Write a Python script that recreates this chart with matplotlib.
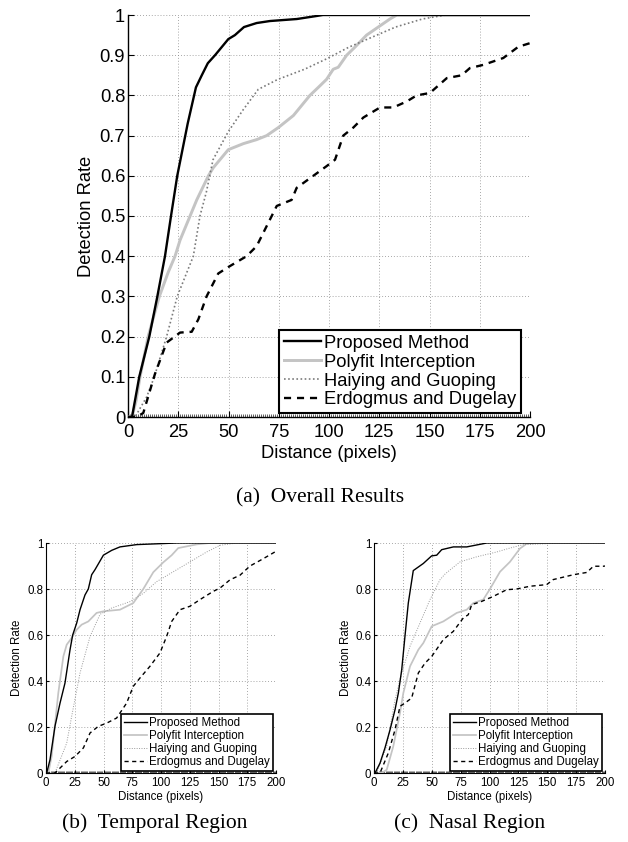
"""Detection-rate curves: overall, temporal and nasal regions."""

import matplotlib

matplotlib.use("Agg")
import matplotlib.pyplot as plt
from matplotlib.ticker import MultipleLocator

plt.rcParams.update({"font.family": ["Liberation Sans", "DejaVu Sans"]})

LABELS = ["Proposed Method", "Polyfit Interception", "Haiying and Guoping", "Erdogmus and Dugelay"]

# (a) overall
a_prop_x = [0, 2, 5.6, 10.6, 14.6, 18.4, 21.4, 24.5, 29.7, 33.8, 36.7, 39.7, 43.3, 49.9, 53.2, 57.7, 64, 70.6, 84, 97, 200]
a_prop_y = [0, 0, 0.1, 0.2, 0.3, 0.4, 0.5, 0.6, 0.73, 0.82, 0.85, 0.88, 0.9, 0.94, 0.95, 0.97, 0.98, 0.985, 0.99, 1.0, 1.0]
a_poly_x = [0, 2, 4, 6, 10, 15.6, 20, 23.4, 25.9, 34.2, 40, 42.4, 49.9, 57.4, 64, 69, 74.8, 82.3, 90.5, 94.7, 98.8,
            102.1, 104.6, 108.8, 112.9, 118.7, 124.5, 130.3, 133.7, 200]
a_poly_y = [0, 0, 0.04, 0.1, 0.2, 0.3, 0.36, 0.4, 0.44, 0.54, 0.6, 0.62, 0.665, 0.68, 0.69, 0.7, 0.72, 0.75, 0.8, 0.82,
            0.84, 0.865, 0.87, 0.9, 0.92, 0.95, 0.97, 0.99, 1.0, 1.0]
a_haiy_x = [0, 3.5, 9.3, 13.1, 19.2, 24.5, 32.5, 35.8, 39, 42.3, 49.9, 57.4, 64.8, 74.6, 87.8, 98.4, 109.9, 121.5,
            133.1, 146.4, 158, 200]
a_haiy_y = [0, 0, 0.05, 0.1, 0.2, 0.3, 0.4, 0.5, 0.56, 0.64, 0.71, 0.765, 0.815, 0.84, 0.865, 0.89, 0.92, 0.945,
            0.97, 0.99, 1.0, 1.0]
a_erdo_x = [0, 4.3, 7.6, 13.4, 19.2, 25.9, 31.7, 35, 39.1, 44.9, 49.9, 59, 64, 69, 74, 81.4, 83.9, 92.2, 98.8, 103,
            107.1, 112.1, 117.1, 125.4, 132, 138.7, 143.6, 150.2, 158.6, 166, 170.1, 176.8, 186.7, 194.2, 200]
a_erdo_y = [0, 0, 0.01, 0.107, 0.185, 0.21, 0.212, 0.243, 0.3, 0.357, 0.373, 0.4, 0.425, 0.475, 0.525, 0.54, 0.57,
            0.6, 0.624, 0.64, 0.7, 0.72, 0.745, 0.77, 0.77, 0.785, 0.8, 0.806, 0.843, 0.85, 0.868, 0.876, 0.893,
            0.921, 0.93]

# (b) temporal region
b_prop_x = [0, 0.6, 3.5, 7.8, 12.2, 16.5, 20.9, 23.2, 26.7, 29.6, 33.9, 36.8, 39.7, 42.6, 49.9, 57.1, 64.3, 78.8,
            113.6, 200]
b_prop_y = [0, 0, 0.058, 0.203, 0.304, 0.391, 0.536, 0.6, 0.652, 0.71, 0.774, 0.8, 0.862, 0.884, 0.947, 0.968,
            0.983, 0.993, 1.0, 1.0]
b_poly_x = [0, 2, 4.9, 10.7, 15.1, 18, 22.3, 26.7, 31, 36.8, 44, 49.9, 64.3, 75.9, 84.6, 93.3, 102, 109.3, 115, 131,
            142.6, 200]
b_poly_y = [0, 0, 0.072, 0.348, 0.507, 0.558, 0.587, 0.623, 0.645, 0.659, 0.696, 0.703, 0.71, 0.739, 0.8, 0.873,
            0.916, 0.947, 0.978, 0.994, 1.0, 1.0]
b_haiy_x = [0, 7.8, 18, 22.3, 29.6, 38.3, 47, 57, 73, 84.6, 96.2, 110.7, 125.2, 139.7, 151.3, 165.8, 200]
b_haiy_y = [0, 0, 0.13, 0.246, 0.435, 0.594, 0.69, 0.717, 0.745, 0.781, 0.832, 0.875, 0.918, 0.961, 0.99, 1.0, 1.0]
b_erdo_x = [0, 7.8, 18, 25.2, 32.5, 38.3, 45.5, 52.8, 61.4, 70.1, 75.9, 81.7, 90.4, 99.1, 104.9, 109.3, 116.5, 125.2,
            133.9, 145.5, 151.3, 160, 168.7, 177.4, 189, 199, 200]
b_erdo_y = [0, 0, 0.05, 0.072, 0.109, 0.174, 0.203, 0.217, 0.239, 0.304, 0.377, 0.413, 0.464, 0.522, 0.594, 0.659,
            0.71, 0.725, 0.754, 0.79, 0.804, 0.84, 0.86, 0.9, 0.932, 0.961, 0.962]

# (c) nasal region
c_prop_x = [0, 0.9, 5.2, 9.5, 13.9, 18.2, 21.1, 24, 26.8, 29.7, 34, 42.7, 49.9, 54.3, 58.6, 68.7, 80.3, 97.6, 200]
c_prop_y = [0, 0, 0.043, 0.109, 0.188, 0.275, 0.348, 0.449, 0.594, 0.739, 0.88, 0.911, 0.944, 0.947, 0.971, 0.983,
            0.983, 1.0, 1.0]
c_poly_x = [0, 6.6, 11, 16.7, 22.5, 25.4, 31.2, 38.4, 42.7, 50, 60, 71.6, 80.3, 86, 94.6, 100.4, 109.1, 117.7, 126.4,
            132.2, 140.9, 200]
c_poly_y = [0, 0, 0.014, 0.116, 0.261, 0.348, 0.464, 0.536, 0.565, 0.638, 0.659, 0.696, 0.71, 0.739, 0.754, 0.8,
            0.875, 0.918, 0.976, 0.997, 1.0, 1.0]
c_haiy_x = [0, 2.3, 11, 18.2, 24, 31.2, 39.8, 48.5, 57.1, 61.5, 67.3, 74.5, 88.9, 106.2, 117.7, 129.3, 164, 200]
c_haiy_y = [0, 0, 0.116, 0.319, 0.435, 0.551, 0.652, 0.754, 0.84, 0.865, 0.889, 0.918, 0.94, 0.961, 0.978, 0.993,
            1.0, 1.0]
c_erdo_x = [0, 5.2, 12.4, 18.2, 22.5, 26.8, 32.6, 38.4, 44.2, 50, 60, 68.7, 77.3, 81.6, 84.6, 93.2, 103.3, 114.9,
            123.5, 135.1, 149.5, 155.2, 172.6, 184.2, 190, 198.6, 200]
c_erdo_y = [0, 0, 0.087, 0.188, 0.29, 0.304, 0.326, 0.435, 0.478, 0.507, 0.58, 0.616, 0.674, 0.688, 0.732, 0.746,
            0.768, 0.797, 0.8, 0.812, 0.819, 0.841, 0.862, 0.872, 0.899, 0.899, 0.9]

X_TICKS = [0, 25, 50, 75, 100, 125, 150, 175, 200]
A_Y_TICKS = [0, 0.1, 0.2, 0.3, 0.4, 0.5, 0.6, 0.7, 0.8, 0.9, 1]
A_Y_LABELS = ["0", "0.1", "0.2", "0.3", "0.4", "0.5", "0.6", "0.7", "0.8", "0.9", "1"]
S_Y_TICKS = [0, 0.2, 0.4, 0.6, 0.8, 1]
S_Y_LABELS = ["0", "0.2", "0.4", "0.6", "0.8", "1"]


def panel(ax, curves, yticks, ylabels, fs, lw, leg_anchor, ylab_x, xlab_y, big):
    prop, poly, haiy, erdo = curves
    ax.plot(*poly, color="#c4c4c4", lw=lw * 1.25, label=LABELS[1], zorder=3)
    ax.plot(*haiy, color="#7a7a7a" if big else "#9a9a9a", lw=lw * 0.7, ls=(0, (1, 1.5)), label=LABELS[2], zorder=3)
    ax.plot(*erdo, color="black", lw=lw, ls=(0, (3, 2.5)), label=LABELS[3], zorder=3)
    ax.plot(*prop, color="black", lw=lw, label=LABELS[0], zorder=4)
    h, l = ax.get_legend_handles_labels()
    order = [3, 0, 1, 2]
    leg = ax.legend([h[i] for i in order], [l[i] for i in order], loc="lower right", bbox_to_anchor=leg_anchor,
                    borderaxespad=0, fancybox=False, fontsize=fs, handlelength=2.0, handletextpad=0.2,
                    borderpad=0.25, labelspacing=0.1, framealpha=1, edgecolor="black")
    leg.get_frame().set_linewidth(1.5 if big else 1.2)
    leg.set_zorder(6)

    ax.set_xlim(0, 200)
    ax.set_ylim(0, 1)
    ax.set_xticks(X_TICKS)
    ax.set_yticks(yticks)
    ax.set_yticklabels(ylabels)
    ax.xaxis.set_minor_locator(MultipleLocator(1))
    ax.grid(True, color="#8a8a8a", lw=0.6, ls=(0, (1, 2.5)))
    ax.set_axisbelow(True)
    for side in ("top", "right"):
        ax.spines[side].set_visible(False)
    for side in ("left", "bottom"):
        ax.spines[side].set_linewidth(1.0 if big else 0.8)
    ax.tick_params(which="major", direction="in", length=4 if big else 2.5, width=0.8,
                   labelsize=fs, top=False, right=False)
    ax.tick_params(axis="x", which="major", pad=5 if big else 3)
    ax.tick_params(axis="y", which="major", pad=2)
    ax.tick_params(axis="x", which="minor", direction="in", length=2.0 if big else 1.4, width=0.6,
                   color="#444444", top=False)
    ax.set_xlabel("Distance (pixels)", fontsize=fs)
    ax.set_ylabel("Detection Rate", fontsize=fs)
    ax.yaxis.set_label_coords(ylab_x, 0.5)
    ax.xaxis.set_label_coords(0.5, xlab_y)


fig = plt.figure(figsize=(6.28, 8.42), dpi=100)
W, H = 628, 842

ax_a = fig.add_axes([128 / W, 1 - 417 / H, 402 / W, 402 / H])
ax_b = fig.add_axes([46 / W, 1 - 773 / H, 230 / W, 230 / H])
ax_c = fig.add_axes([374 / W, 1 - 773 / H, 231 / W, 230 / H])

panel(ax_a, [(a_prop_x, a_prop_y), (a_poly_x, a_poly_y), (a_haiy_x, a_haiy_y), (a_erdo_x, a_erdo_y)],
      A_Y_TICKS, A_Y_LABELS, 13.2, 1.7, (0.978, 0.01), -0.082, -0.07, True)
panel(ax_b, [(b_prop_x, b_prop_y), (b_poly_x, b_poly_y), (b_haiy_x, b_haiy_y), (b_erdo_x, b_erdo_y)],
      S_Y_TICKS, S_Y_LABELS, 8.3, 1.0, (0.987, 0.009), -0.10, -0.078, False)
panel(ax_c, [(c_prop_x, c_prop_y), (c_poly_x, c_poly_y), (c_haiy_x, c_haiy_y), (c_erdo_x, c_erdo_y)],
      S_Y_TICKS, S_Y_LABELS, 8.3, 1.0, (0.986, 0.009), -0.095, -0.078, False)

cap = dict(ha="center", va="center", fontsize=15.5, family=["Liberation Serif", "DejaVu Serif"])
fig.text(320 / W, 1 - 498 / H, "(a)  Overall Results", **cap)
fig.text(155 / W, 1 - 823 / H, "(b)  Temporal Region", **cap)
fig.text(470 / W, 1 - 823 / H, "(c)  Nasal Region", **cap)

fig.savefig("out.png", dpi=100)
